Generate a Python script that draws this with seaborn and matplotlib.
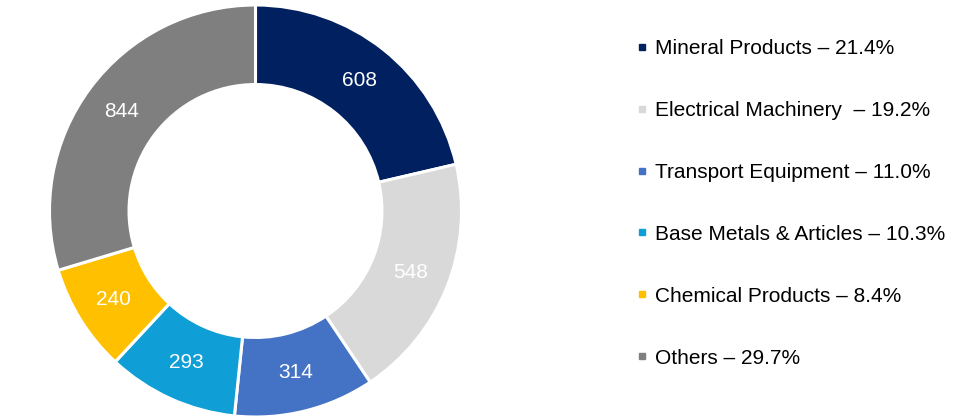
import matplotlib
matplotlib.use("Agg")
import matplotlib.pyplot as plt
import seaborn as sns
from matplotlib.lines import Line2D

categories = ["Mineral Products", "Electrical Machinery ", "Transport Equipment",
              "Base Metals & Articles", "Chemical Products", "Others"]
values = [608, 548, 314, 293, 240, 844]
shares = ["21.4%", "19.2%", "11.0%", "10.3%", "8.4%", "29.7%"]
colors = ["#002060", "#D9D9D9", "#4472C4", "#0F9ED5", "#FFC000", "#7F7F7F"]

sns.set_theme(style="white")
plt.rcParams["font.family"] = ["Liberation Sans", "DejaVu Sans"]
plt.rcParams["text.color"] = "black"

fig = plt.figure(figsize=(9.72, 4.18), dpi=100)
ax = fig.add_axes([49.5 / 972, 1 / 418, 412 / 972, 412 / 418])

total = sum(values)
wedges, _, autotexts = ax.pie(
    values, colors=colors, startangle=90, counterclock=False,
    radius=1.0, wedgeprops=dict(width=0.386, edgecolor="white", linewidth=2.2),
    autopct=lambda p: f"{round(p * total / 100)}", pctdistance=0.81,
    textprops=dict(color="white", fontsize=15),
)
ax.set_xlim(-1, 1)
ax.set_ylim(-1, 1)
ax.set_aspect("equal")
ax.axis("off")

handles = [Line2D([0], [0], marker="s", linestyle="none", markersize=5,
                  markerfacecolor=c, markeredgecolor=c) for c in colors]
labels = [f"{c} – {s}" for c, s in zip(categories, shares)]
fig.legend(handles, labels, loc="upper left", bbox_to_anchor=(636 / 972, 1 - 39 / 418),
           frameon=False, fontsize=15, handlelength=0.6, handletextpad=0.3,
           labelspacing=2.06, borderpad=0, borderaxespad=0, labelcolor="black")

fig.savefig("out.png", dpi=100, facecolor="white")
